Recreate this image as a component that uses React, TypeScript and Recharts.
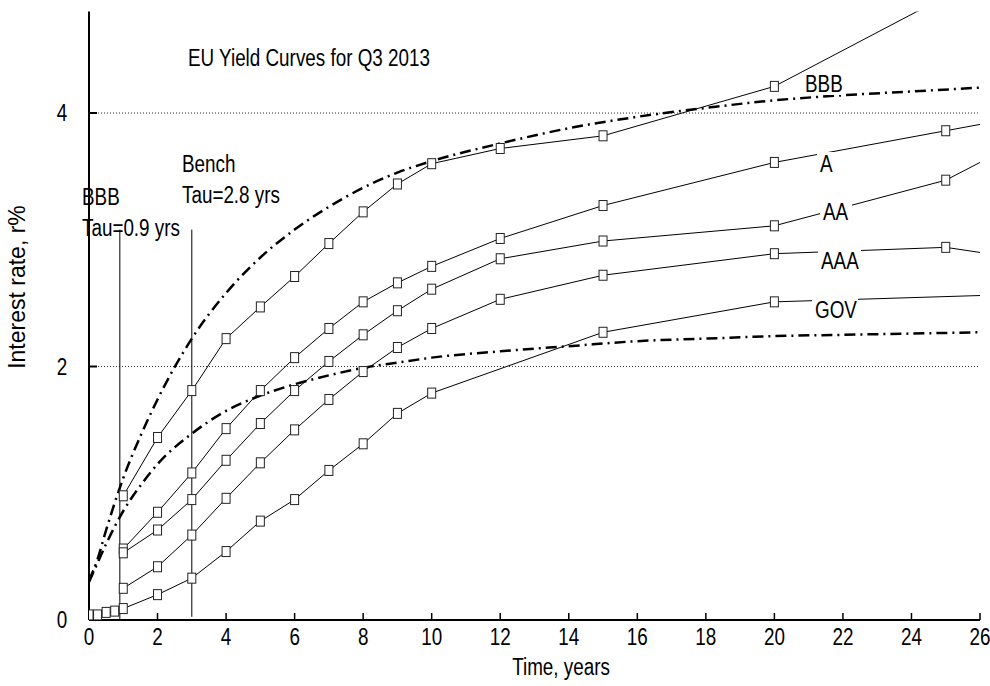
import React from 'react'
import { LineChart, Line, XAxis, YAxis, CartesianGrid, ReferenceLine } from 'recharts'

// maturities (years) with quoted yields
const years = [1, 2, 3, 4, 5, 6, 7, 8, 9, 10, 12, 15, 20, 25, 26]
const bbb = [0.98, 1.44, 1.81, 2.22, 2.47, 2.71, 2.97, 3.22, 3.44, 3.6, 3.72, 3.82, 4.21, 4.92, 5.06]
const ratingA = [0.56, 0.85, 1.16, 1.51, 1.81, 2.07, 2.3, 2.51, 2.66, 2.79, 3.01, 3.27, 3.61, 3.86, 3.91]
const ratingAA = [0.53, 0.71, 0.95, 1.26, 1.55, 1.81, 2.04, 2.25, 2.44, 2.61, 2.85, 2.99, 3.11, 3.47, 3.61]
const ratingAAA = [0.25, 0.42, 0.67, 0.96, 1.24, 1.5, 1.74, 1.96, 2.15, 2.3, 2.53, 2.72, 2.89, 2.94, 2.9]

const govYears = [0, 0.25, 0.5, 0.75, 1, 2, 3, 4, 5, 6, 7, 8, 9, 10, 15, 20, 26]
const gov = [0.04, 0.04, 0.06, 0.07, 0.09, 0.2, 0.33, 0.54, 0.78, 0.95, 1.18, 1.39, 1.63, 1.79, 2.27, 2.51, 2.56]

// fitted curves (dash-dot)
const curveYears = [0, 0.25, 0.5, 1, 1.5, 2, 3, 4, 5, 6, 7, 8, 9, 10, 12, 14, 16, 18, 20, 22, 24, 26]
const bbbCurve = [0.31, 0.48, 0.71, 1.12, 1.45, 1.74, 2.22, 2.58, 2.86, 3.08, 3.26, 3.41, 3.53, 3.62, 3.76, 3.88, 3.97, 4.04, 4.1, 4.14, 4.17, 4.2]
const benchCurve = [0.3, 0.45, 0.6, 0.86, 1.06, 1.23, 1.47, 1.65, 1.77, 1.86, 1.93, 1.99, 2.03, 2.07, 2.12, 2.16, 2.2, 2.22, 2.24, 2.25, 2.26, 2.27]

const xTicks = [0, 2, 4, 6, 8, 10, 12, 14, 16, 18, 20, 22, 24, 26]
const yTicks = [0, 2, 4]

const toPoints = (xs: number[], ys: number[]) => xs.map((x, i) => ({ x, y: ys[i] }))

const W = 990
const H = 686
const font = "'Liberation Sans', Arial, sans-serif"

// condensed text: Liberation Sans squeezed horizontally
const NText = ({ x, y, anchor = 'start', children }: any) => (
  <text transform={`translate(${x} ${y}) scale(0.82 1)`} textAnchor={anchor} fontFamily={font} fontSize={23} fill="#000">
    {children}
  </text>
)

const Marker = (p: any) => {
  if (p.payload.x >= 26) return <g key={p.index} />
  return <rect key={p.index} x={p.cx - 4} y={p.cy - 5} width={8} height={10} fill="#fff" stroke="#222" strokeWidth={1} />
}

const XTick = (p: any) => (
  <g>
    {p.payload.value !== 0 && <line x1={p.x} x2={p.x} y1={p.y} y2={p.y - 7} stroke="#000" strokeWidth={1.5} />}
    <NText x={p.x} y={p.y + 25} anchor="middle">{p.payload.value}</NText>
  </g>
)

const YTick = (p: any) => (
  <g>
    {p.payload.value !== 0 && <line x1={p.x} x2={p.x + 8} y1={p.y} y2={p.y} stroke="#000" strokeWidth={2} />}
    <NText x={p.x - 27} y={p.y + 8} anchor="middle">{p.payload.value}</NText>
  </g>
)

// curve name boxes sit on top of the lines
const tags = [
  { text: 'BBB', x: 805, y: 92, w: 37 },
  { text: 'A', x: 820, y: 172, w: 14 },
  { text: 'AA', x: 823, y: 220, w: 26 },
  { text: 'AAA', x: 821, y: 269, w: 37 },
  { text: 'GOV', x: 815, y: 318, w: 40 },
]

export default function App() {
  return (
    <div style={{ position: 'absolute', left: 0, top: 0, width: W, height: H, background: '#fff' }}>
      <LineChart width={W} height={H} margin={{ top: 11.6, right: 10, bottom: 0, left: 0 }}>
        <CartesianGrid vertical={false} horizontalValues={[2, 4]} stroke="#333" strokeDasharray="1 2" />
        <XAxis type="number" dataKey="x" domain={[0, 26]} ticks={xTicks} interval={0} allowDataOverflow
          height={66} axisLine={{ stroke: '#000', strokeWidth: 2 }} tickLine={false} tickSize={0} tickMargin={0} tick={XTick} />
        <YAxis type="number" domain={[0, 4.8]} ticks={yTicks} interval={0} allowDataOverflow
          width={89} axisLine={{ stroke: '#000', strokeWidth: 2 }} tickLine={false} tickSize={0} tickMargin={0} tick={YTick} />
        <ReferenceLine segment={[{ x: 0.9, y: 0 }, { x: 0.9, y: 3.08 }]} stroke="#000" strokeWidth={1} />
        <ReferenceLine segment={[{ x: 3, y: 0.025 }, { x: 3, y: 3.08 }]} stroke="#000" strokeWidth={1} />
        <Line data={toPoints(curveYears, bbbCurve)} dataKey="y" type="monotone" stroke="#000" strokeWidth={2.5}
          strokeDasharray="11 5 2 5" dot={false} isAnimationActive={false} />
        <Line data={toPoints(curveYears, benchCurve)} dataKey="y" type="monotone" stroke="#000" strokeWidth={2.5}
          strokeDasharray="11 5 2 5" dot={false} isAnimationActive={false} />
        <Line data={toPoints(years, bbb)} dataKey="y" stroke="#000" strokeWidth={1} dot={Marker} isAnimationActive={false} />
        <Line data={toPoints(years, ratingA)} dataKey="y" stroke="#000" strokeWidth={1} dot={Marker} isAnimationActive={false} />
        <Line data={toPoints(years, ratingAA)} dataKey="y" stroke="#000" strokeWidth={1} dot={Marker} isAnimationActive={false} />
        <Line data={toPoints(years, ratingAAA)} dataKey="y" stroke="#000" strokeWidth={1} dot={Marker} isAnimationActive={false} />
        <Line data={toPoints(govYears, gov)} dataKey="y" stroke="#000" strokeWidth={1} dot={Marker} isAnimationActive={false} />
      </LineChart>
      <svg width={W} height={H} style={{ position: 'absolute', left: 0, top: 0, pointerEvents: 'none' }}>
        <NText x={188} y={66}>EU Yield Curves for Q3 2013</NText>
        <NText x={182} y={172}>Bench</NText>
        <NText x={182} y={203}>Tau=2.8 yrs</NText>
        <NText x={82} y={205}>BBB</NText>
        <NText x={82} y={236}>Tau=0.9 yrs</NText>
        {tags.map((t) => (
          <g key={t.text}>
            <rect x={t.x - 3} y={t.y - 20} width={t.w + 6} height={23} fill="#fff" />
            <NText x={t.x} y={t.y}>{t.text}</NText>
          </g>
        ))}
        <NText x={561} y={675} anchor="middle">Time, years</NText>
        <text x={0} y={0} transform="translate(25 287) rotate(-90)" textAnchor="middle" fontFamily={font} fontSize={23} fill="#000">
          Interest rate, r%
        </text>
      </svg>
    </div>
  )
}
